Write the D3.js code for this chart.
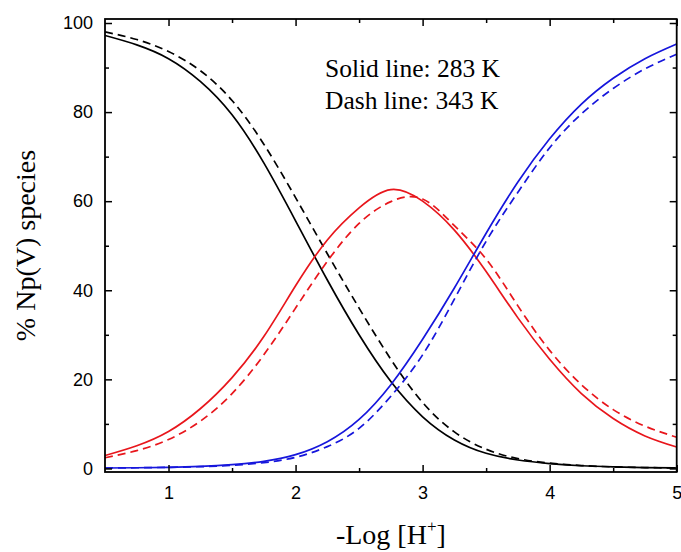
<!DOCTYPE html>
<html>
<head>
<meta charset="utf-8">
<script src="https://cdn.jsdelivr.net/npm/d3@7"></script>
<style>
  html, body { margin: 0; padding: 0; background: #fff; }
  svg { display: block; }
</style>
</head>
<body>
<svg id="chart" width="681" height="552"></svg>
<script>
// -Log[H+] grid shared by every curve
const pH = [0.5, 0.75, 1.0, 1.25, 1.5, 1.75, 2.0, 2.25, 2.5, 2.75, 3.0, 3.25, 3.5, 3.75, 4.0, 4.25, 4.5, 4.75, 5.0];

// % of Np(V) in each species, 283 K (solid) and 343 K (dashed)
const blackSolid = [97.2, 95.1, 92.0, 86.9, 79.4, 68.6, 55.6, 42.3, 30.0, 19.5, 11.6, 6.4, 3.4, 1.9, 1.1, 0.6, 0.35, 0.2, 0.1];
const blackDash  = [98.0, 96.3, 93.6, 89.3, 82.6, 72.8, 60.8, 48.2, 36.0, 24.5, 14.8, 8.2, 4.3, 2.2, 1.2, 0.65, 0.35, 0.2, 0.1];
const redSolid   = [2.9, 5.1, 8.3, 13.4, 20.4, 29.6, 41.0, 51.3, 58.5, 62.6, 60.0, 53.5, 44.2, 33.8, 24.5, 16.8, 11.2, 7.3, 4.8];
const redDash    = [2.4, 4.0, 6.5, 10.6, 16.8, 25.5, 36.0, 46.5, 55.0, 59.9, 60.5, 54.5, 47.0, 36.5, 26.5, 18.8, 13.2, 9.5, 7.0];
const blueSolid  = [0.1, 0.15, 0.25, 0.45, 0.85, 1.6, 3.1, 6.0, 11.0, 18.8, 29.0, 40.5, 52.8, 64.3, 74.0, 81.8, 87.6, 92.0, 95.3];
const blueDash   = [0.1, 0.15, 0.25, 0.4, 0.7, 1.3, 2.5, 4.9, 9.0, 16.2, 25.5, 38.0, 51.0, 62.0, 72.0, 79.6, 85.3, 89.7, 93.0];

const xMajor = [1, 2, 3, 4, 5];
const xMinor = [1.5, 2.5, 3.5, 4.5];
const yMajor = [0, 20, 40, 60, 80, 100];
const yMinor = [10, 30, 50, 70, 90];

const legendLines = ["Solid line: 283 K", "Dash line: 343 K"];

const svg = d3.select("#chart");
const plotL = 105, plotR = 676.7, plotT = 19, plotB = 472;

const x = d3.scaleLinear().domain([0.5, 5]).range([plotL, plotR]);
const y = d3.scaleLinear().domain([-0.8, 100.9]).range([plotB, plotT]);

const series = [
  { v: blackSolid, color: "#000000", dash: null },
  { v: blackDash,  color: "#000000", dash: "8,5" },
  { v: redSolid,   color: "#e8161c", dash: null },
  { v: redDash,    color: "#e8161c", dash: "8,5" },
  { v: blueSolid,  color: "#1616dc", dash: null },
  { v: blueDash,   color: "#1616dc", dash: "8,5" }
];

const line = d3.line()
  .x((d, i) => x(pH[i]))
  .y(d => y(d))
  .curve(d3.curveNatural);

svg.append("clipPath").attr("id", "plotClip")
  .append("rect").attr("x", plotL).attr("y", plotT)
  .attr("width", plotR - plotL).attr("height", plotB - plotT);

svg.append("g").attr("clip-path", "url(#plotClip)")
  .selectAll("path").data(series).join("path")
  .attr("d", s => line(s.v))
  .attr("fill", "none")
  .attr("stroke", s => s.color)
  .attr("stroke-width", 1.7)
  .attr("stroke-dasharray", s => s.dash);

// frame axes with inward ticks on all four sides
const axisFont = "'Liberation Sans', Arial, sans-serif";
const majorLen = 7, minorLen = 4;

svg.append("g").attr("transform", `translate(0,${plotB})`)
  .call(d3.axisBottom(x).tickValues(xMajor).tickSizeInner(-majorLen).tickSizeOuter(0).tickPadding(14).tickFormat(d3.format("d")))
  .call(g => g.select(".domain").remove());
svg.append("g").attr("transform", `translate(0,${plotB})`)
  .call(d3.axisBottom(x).tickValues(xMinor).tickSizeInner(-minorLen).tickSizeOuter(0).tickFormat(""))
  .call(g => g.select(".domain").remove());
svg.append("g").attr("transform", `translate(0,${plotT})`)
  .call(d3.axisTop(x).tickValues(xMajor).tickSizeInner(-majorLen).tickSizeOuter(0).tickFormat(""))
  .call(g => g.select(".domain").remove());
svg.append("g").attr("transform", `translate(0,${plotT})`)
  .call(d3.axisTop(x).tickValues(xMinor).tickSizeInner(-minorLen).tickSizeOuter(0).tickFormat(""))
  .call(g => g.select(".domain").remove());

svg.append("g").attr("transform", `translate(${plotL},0)`)
  .call(d3.axisLeft(y).tickValues(yMajor).tickSizeInner(-majorLen).tickSizeOuter(0).tickPadding(12).tickFormat(d3.format("d")))
  .call(g => g.select(".domain").remove());
svg.append("g").attr("transform", `translate(${plotL},0)`)
  .call(d3.axisLeft(y).tickValues(yMinor).tickSizeInner(-minorLen).tickSizeOuter(0).tickFormat(""))
  .call(g => g.select(".domain").remove());
svg.append("g").attr("transform", `translate(${plotR},0)`)
  .call(d3.axisRight(y).tickValues(yMajor).tickSizeInner(-majorLen).tickSizeOuter(0).tickFormat(""))
  .call(g => g.select(".domain").remove());
svg.append("g").attr("transform", `translate(${plotR},0)`)
  .call(d3.axisRight(y).tickValues(yMinor).tickSizeInner(-minorLen).tickSizeOuter(0).tickFormat(""))
  .call(g => g.select(".domain").remove());

svg.selectAll(".tick line").attr("stroke", "#000").attr("stroke-width", 1.5);
svg.selectAll(".tick text").attr("font-family", axisFont).attr("font-size", 18).attr("fill", "#000");

svg.append("rect")
  .attr("x", plotL).attr("y", plotT)
  .attr("width", plotR - plotL).attr("height", plotB - plotT)
  .attr("fill", "none").attr("stroke", "#000").attr("stroke-width", 1.8);

// titles
const serif = "'Liberation Serif', 'Times New Roman', serif";

const xt = svg.append("text")
  .attr("x", (plotL + plotR) / 2).attr("y", 544)
  .attr("text-anchor", "middle")
  .attr("font-family", serif).attr("font-size", 28).attr("fill", "#000");
xt.append("tspan").text("-Log [H");
xt.append("tspan").attr("font-size", 17).attr("dy", -12).text("+");
xt.append("tspan").attr("dy", 12).text("]");

svg.append("text")
  .attr("transform", `translate(35,${(plotT + plotB) / 2}) rotate(-90)`)
  .attr("text-anchor", "middle")
  .attr("font-family", serif).attr("font-size", 28).attr("fill", "#000")
  .text("% Np(V) species");

svg.append("g").selectAll("text").data(legendLines).join("text")
  .attr("x", 325).attr("y", (d, i) => 77 + i * 32)
  .attr("font-family", serif).attr("font-size", 25.5).attr("fill", "#000")
  .text(d => d);
</script>
</body>
</html>
